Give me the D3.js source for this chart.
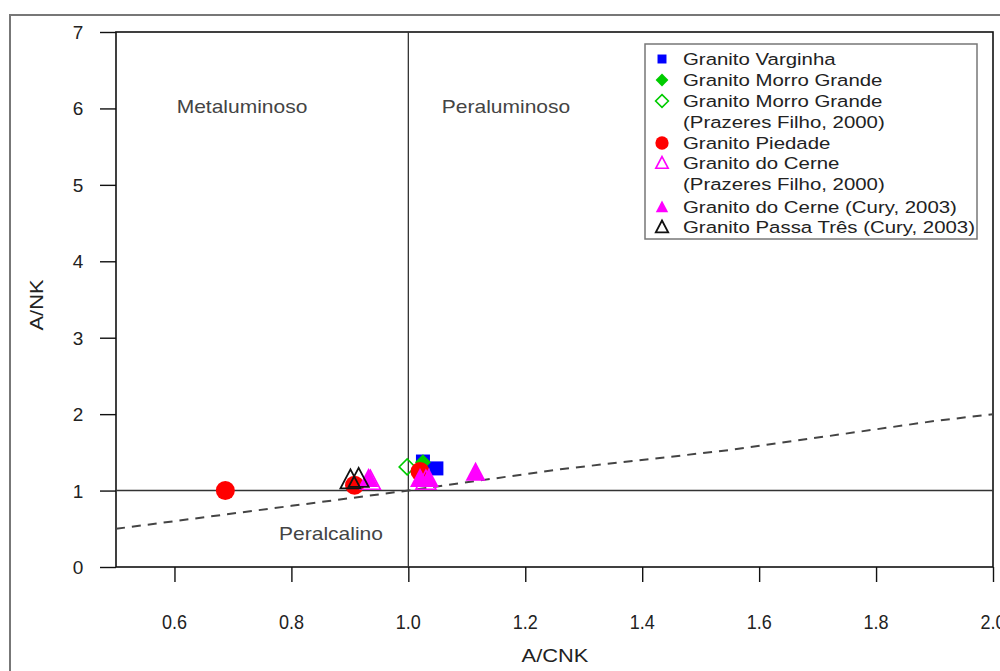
<!DOCTYPE html>
<html><head><meta charset="utf-8">
<script src="https://cdn.jsdelivr.net/npm/d3@7"></script>
<style>body{margin:0;background:#fff}svg{display:block;font-family:"Liberation Sans",Arial,sans-serif}</style>
</head><body>
<svg id="c" width="1000" height="671"></svg>
<script>
const xTicks = [0.6, 0.8, 1.0, 1.2, 1.4, 1.6, 1.8, 2.0];
const xTickLabels = ["0.6", "0.8", "1.0", "1.2", "1.4", "1.6", "1.8", "2.0"];
const yTicks = [0, 1, 2, 3, 4, 5, 6, 7];

const varginha = [[1.025, 1.38], [1.048, 1.29]];
const morroGrande = [[1.025, 1.37]];
const morroGrandePF = [[0.998, 1.31]];
const piedade = [[0.687, 1.0], [0.908, 1.07], [1.02, 1.25]];
const cernePF = [[0.935, 1.13], [1.03, 1.13]];
const cerneCury = [[0.932, 1.16], [1.02, 1.16], [1.035, 1.16], [1.115, 1.24]];
const passaTres = [[0.901, 1.14], [0.915, 1.16]];

const boundaryLine = [[0.5, 0.5], [0.8, 0.8], [1.0, 1.0], [1.26, 1.28], [1.55, 1.53], [1.9, 1.91], [2.0, 2.0]];

const legendLabels = [
  ["Granito Varginha"],
  ["Granito Morro Grande"],
  ["Granito Morro Grande", "(Prazeres Filho, 2000)"],
  ["Granito Piedade"],
  ["Granito do Cerne", "(Prazeres Filho, 2000)"],
  ["Granito do Cerne (Cury, 2003)"],
  ["Granito Passa Três (Cury, 2003)"]
];

const svg = d3.select("#c");
const x = d3.scaleLinear().domain([0.5, 2.0]).range([116, 993]);
const y = d3.scaleLinear().domain([0, 7]).range([567, 32]);
const FONT = '"Liberation Sans", Arial, sans-serif';

function txt(g, tx, ty, s, size, sx, anchor, fill) {
  return g.append("text")
    .attr("transform", `translate(${tx},${ty}) scale(${sx},1)`)
    .attr("text-anchor", anchor).attr("font-size", size)
    .attr("font-family", FONT).attr("fill", fill).text(s);
}

// outer frame
svg.append("rect").attr("x", 10).attr("y", 15).attr("width", 1000).attr("height", 700)
  .attr("fill", "none").attr("stroke", "#777").attr("stroke-width", 2);

// plot box
svg.append("rect").attr("x", x(0.5)).attr("y", y(7)).attr("width", x(2) - x(0.5)).attr("height", y(0) - y(7))
  .attr("fill", "none").attr("stroke", "#111").attr("stroke-width", 1.6);

// axes
const xAxis = d3.axisBottom(x).tickValues(xTicks).tickSize(15).tickFormat(() => "");
const gx = svg.append("g").attr("transform", `translate(0,${y(0)})`).call(xAxis);
gx.select(".domain").remove();
gx.selectAll("line").attr("stroke", "#111").attr("stroke-width", 1.4);
xTicks.forEach((v, i) => txt(svg, x(v), 629, xTickLabels[i], 20, 0.9, "middle", "#222"));

const yAxis = d3.axisLeft(y).tickValues(yTicks).tickSize(16).tickFormat(() => "");
const gy = svg.append("g").attr("transform", `translate(${x(0.5)},0)`).call(yAxis);
gy.select(".domain").remove();
gy.selectAll("line").attr("stroke", "#111").attr("stroke-width", 1.4);
yTicks.forEach(v => txt(svg, 78, y(v) + 7, String(v), 19, 1.0, "middle", "#222"));

txt(svg, 555, 662, "A/CNK", 19, 1.15, "middle", "#222");
svg.append("text").attr("transform", `translate(43,305) rotate(-90) scale(1.15,1)`).attr("text-anchor", "middle")
  .attr("font-family", FONT).attr("font-size", 19).attr("fill", "#222").text("A/NK");

// reference lines
svg.append("line").attr("x1", x(1)).attr("x2", x(1)).attr("y1", y(0)).attr("y2", y(7))
  .attr("stroke", "#333").attr("stroke-width", 1.3);
svg.append("line").attr("x1", x(0.5)).attr("x2", x(2)).attr("y1", y(1)).attr("y2", y(1))
  .attr("stroke", "#333").attr("stroke-width", 1.5);
svg.append("path").datum(boundaryLine)
  .attr("d", d3.line().x(d => x(d[0])).y(d => y(d[1])))
  .attr("fill", "none").attr("stroke", "#444").attr("stroke-width", 2).attr("stroke-dasharray", "9,7");

// field labels
txt(svg, 242, 113, "Metaluminoso", 17.5, 1.2, "middle", "#444");
txt(svg, 506, 113, "Peraluminoso", 17.5, 1.2, "middle", "#444");
txt(svg, 331, 540, "Peralcalino", 17.5, 1.2, "middle", "#444");

// marker shapes
function tri(cx, cy, w, h) {
  return `M${cx},${cy - h * 0.55}L${cx + w / 2},${cy + h * 0.45}L${cx - w / 2},${cy + h * 0.45}Z`;
}
function diamond(cx, cy, s) {
  return `M${cx},${cy - s}L${cx + s},${cy}L${cx},${cy + s}L${cx - s},${cy}Z`;
}
function drawMarker(g, type, cx, cy, scale) {
  const k = scale;
  if (type === "sq") g.append("rect").attr("x", cx - 7 * k).attr("y", cy - 7 * k).attr("width", 14 * k).attr("height", 14 * k).attr("fill", "#0000ff");
  if (type === "dF") g.append("path").attr("d", diamond(cx, cy, 8 * k)).attr("fill", "#00cc00");
  if (type === "dO") g.append("path").attr("d", diamond(cx, cy, 8 * k)).attr("fill", "none").attr("stroke", "#00cc00").attr("stroke-width", 1.6);
  if (type === "cF") g.append("circle").attr("cx", cx).attr("cy", cy).attr("r", 9.5 * k).attr("fill", "#ff0000");
  if (type === "tO_m") g.append("path").attr("d", tri(cx, cy, 20 * k, 19 * k)).attr("fill", "none").attr("stroke", "#ff00ff").attr("stroke-width", 1.6);
  if (type === "tF_m") g.append("path").attr("d", tri(cx, cy, 20 * k, 19 * k)).attr("fill", "#ff00ff");
  if (type === "tO_k") g.append("path").attr("d", tri(cx, cy, 20 * k, 19 * k)).attr("fill", "none").attr("stroke", "#111").attr("stroke-width", 1.8);
}

const series = [
  [varginha, "sq"], [morroGrande, "dF"], [morroGrandePF, "dO"], [piedade, "cF"],
  [cernePF, "tO_m"], [cerneCury, "tF_m"], [passaTres, "tO_k"]
];
const gm = svg.append("g");
series.forEach(([data, type]) => {
  data.forEach(d => drawMarker(gm, type, x(d[0]), y(d[1]), 1));
});

// legend
svg.append("rect").attr("x", 645).attr("y", 44).attr("width", 332).attr("height", 195)
  .attr("fill", "#fff").attr("stroke", "#777").attr("stroke-width", 1.5);
const legRows = [59, 80, 101, 143, 163, 207, 227];
const legTypes = ["sq", "dF", "dO", "cF", "tO_m", "tF_m", "tO_k"];
const lg = svg.append("g");
legendLabels.forEach((lines, i) => {
  const yy = legRows[i];
  const t = legTypes[i];
  if (t === "sq") drawMarker(lg, t, 662, yy, 0.64);
  else if (t === "cF") drawMarker(lg, t, 662, yy, 0.7);
  else if (t === "dF" || t === "dO") drawMarker(lg, t, 662, yy, 0.8);
  else drawMarker(lg, t, 662, yy, 0.62);
  lines.forEach((s, j) => txt(lg, 683, yy + 6 + j * 21, s, 17, 1.2, "start", "#222"));
});
</script>
</body></html>
